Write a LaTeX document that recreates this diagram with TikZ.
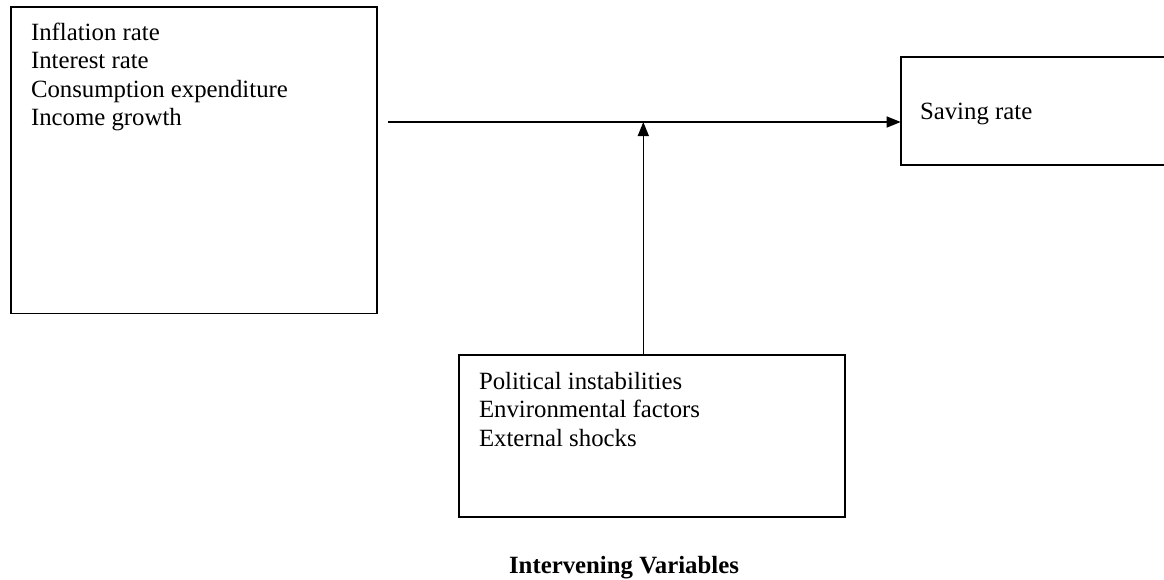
\documentclass[tikz,border=0pt]{standalone}
\usepackage{fontspec}
\setmainfont{Liberation Serif}
\usetikzlibrary{arrows.meta}
\begin{document}
\begin{tikzpicture}[x=1pt,y=-1pt,
  box/.style={draw, line width=1.6pt, inner sep=0pt, outer sep=0pt, anchor=north west},
  txt/.style={inner sep=0pt, outer sep=0pt, anchor=base west, font=\fontsize{24.8pt}{28.5pt}\selectfont},
  conn/.style={line width=1.3pt, -{Triangle[length=14pt,width=11pt]}}]
\clip (0,0) rectangle (1164,579);
\fill[white] (0,0) rectangle (1164,579);
% boxes
\node[box, minimum width=366pt, minimum height=306.6pt] (lbox) at (10.7,6.7) {};
\node[box, minimum width=289.3pt, minimum height=108.3pt] (rbox) at (900.7,56.7) {};
\node[box, minimum width=386pt, minimum height=161.7pt] (bbox) at (459,355) {};
% texts
\node[txt] (ltext) at (31,40) {\begin{tabular}[t]{@{}l@{}}Inflation rate\\Interest rate\\Consumption expenditure\\Income growth\end{tabular}};
\node[txt] (rtext) at (920,119.5) {Saving rate};
\node[txt] (btext) at (479,389) {\begin{tabular}[t]{@{}l@{}}Political instabilities\\Environmental factors\\External shocks\end{tabular}};
\node[txt, anchor=base, font=\fontsize{24.8pt}{28.5pt}\selectfont\bfseries] (label) at (624,573) {Intervening Variables};
% connectors
\coordinate (hstart) at (388,122);
\coordinate (vend) at (643.3,122);
\draw[conn] (hstart) -- (hstart -| rbox.west);
\draw[conn] (bbox.north -| vend) -- (vend);
\end{tikzpicture}
\end{document}
